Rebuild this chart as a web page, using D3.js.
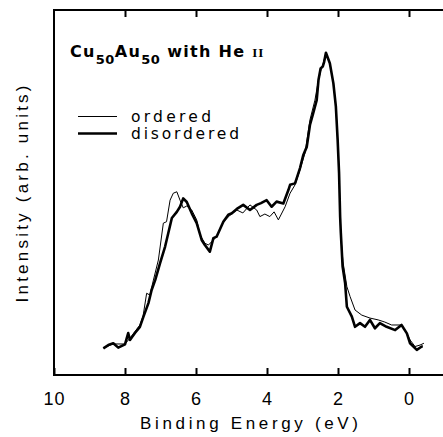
<!DOCTYPE html>
<html><head><meta charset="utf-8">
<script src="https://cdn.jsdelivr.net/npm/d3@7"></script>
<style>body{margin:0;background:#fff}svg{display:block}</style>
</head><body>
<script>
// Binding energy (eV) and intensity (arb. units)
const disorderedE = [8.61,8.47,8.33,8.19,8.00,7.91,7.86,7.72,7.58,7.48,7.34,7.25,7.15,7.01,6.87,6.78,6.68,6.54,6.45,6.36,6.26,6.12,5.98,5.84,5.75,5.61,5.51,5.42,5.23,5.09,4.99,4.85,4.67,4.48,4.29,4.17,4.01,3.87,3.73,3.54,3.40,3.35,3.21,3.07,2.98,2.88,2.79,2.70,2.60,2.55,2.49,2.43,2.39,2.34,2.23,2.13,2.06,2.01,1.97,1.94,1.92,1.87,1.80,1.75,1.61,1.52,1.38,1.24,1.10,0.96,0.82,0.63,0.39,0.21,0.06,-0.03,-0.22,-0.36,-0.39];
const disorderedI = [7.3,8.2,8.7,7.5,8.4,11.5,9.6,11.5,13.2,16.0,19.7,23.3,26.0,30.7,35.2,38.9,43.0,44.7,46.1,48.4,47.4,44.3,41.6,37.0,35.6,33.8,37.5,37.9,42.0,43.9,44.3,45.5,46.6,45.2,46.6,47.1,47.9,46.1,47.5,47.0,50.6,52.1,52.5,56.7,60.2,62.5,68.5,71.7,75.3,80.8,84.0,84.5,85.8,88.3,85.4,79.9,73.5,64.4,55.3,43.4,38.9,29.7,25.2,18.7,16.0,13.2,14.2,13.2,15.1,12.8,14.2,13.2,12.3,13.7,11.4,8.7,6.9,7.8,7.8];
const orderedE = [8.61,8.34,8.00,7.86,7.58,7.49,7.39,7.30,7.20,7.06,6.92,6.83,6.73,6.64,6.54,6.45,6.36,6.26,6.12,5.98,5.89,5.75,5.65,5.56,5.42,5.23,5.04,4.85,4.68,4.48,4.29,4.20,4.06,3.92,3.80,3.68,3.49,3.35,3.21,3.07,2.93,2.79,2.65,2.56,2.48,2.42,2.34,2.23,2.13,2.06,2.01,1.97,1.94,1.92,1.86,1.75,1.66,1.52,1.33,1.10,0.87,0.68,0.49,0.21,0.11,-0.03,-0.17,-0.31,-0.42];
const orderedI = [7.4,8.5,8.5,10.1,13.7,16.2,22.4,21.9,26.0,31.5,41.6,42.0,47.9,49.8,50.2,47.9,45.8,46.3,45.2,42.5,38.4,36.1,35.6,36.5,37.9,41.9,43.8,45.2,44.4,46.6,45.2,43.4,44.1,43.4,44.7,42.5,46.1,49.8,52.1,56.2,60.8,69.9,75.3,80.3,83.6,85.2,88.3,85.4,79.9,73.5,64.4,55.3,43.4,38.1,31.0,24.2,21.5,17.8,16.4,15.6,15.1,14.5,13.7,13.7,12.3,9.6,7.8,8.2,8.7];
const xTicks = [10,8,6,4,2,0];
const seriesNames = ["ordered","disordered"];

const W = 443, H = 437;
const svg = d3.select("body").append("svg").attr("width",W).attr("height",H);
const x = d3.scaleLinear().domain([10,-1]).range([54,444.5]);
const y = d3.scaleLinear().domain([0,100]).range([375,10]);
const font = "'Liberation Sans', Arial, sans-serif";
const wide = "'DejaVu Sans', sans-serif";

// frame
const frame = svg.append("g").attr("stroke","#000").attr("stroke-width",2).attr("fill","none");
frame.append("path").attr("d",`M${W},${y(100)}H${x(10)}V${y(0)}H${W}`);

// bottom axis (inward ticks)
const xb = svg.append("g").attr("transform",`translate(0,${y(0)})`)
  .call(d3.axisBottom(x).tickValues(xTicks).tickSizeInner(-7).tickSizeOuter(0).tickPadding(17));
xb.select(".domain").remove();
xb.selectAll(".tick line").attr("stroke-width",2);
xb.selectAll(".tick text").attr("font-family",font).attr("font-size",18).attr("fill","#000").attr("letter-spacing",1);
// top ticks
const xt = svg.append("g").attr("transform",`translate(0,${y(100)})`)
  .call(d3.axisTop(x).tickValues(xTicks.filter(d=>d!==10)).tickSizeInner(-7).tickSizeOuter(0).tickFormat(""));
xt.select(".domain").remove();
xt.selectAll(".tick line").attr("stroke-width",2);

// axis titles
svg.append("text").attr("x",249).attr("y",429).attr("text-anchor","middle")
  .attr("font-family",font).attr("font-size",17).attr("textLength",218).attr("lengthAdjust","spacing")
  .text("Binding Energy (eV)");
svg.append("text").attr("transform","translate(28,194) rotate(-90)").attr("text-anchor","middle")
  .attr("font-family",font).attr("font-size",17).attr("textLength",217).attr("lengthAdjust","spacing")
  .text("Intensity (arb. units)");

// curves
const line = d3.line().x(d=>x(d[0])).y(d=>y(d[1]));
const ordered = orderedE.map((e,i)=>[e,orderedI[i]]);
const disordered = disorderedE.map((e,i)=>[e,disorderedI[i]]);
svg.append("path").datum(ordered).attr("d",line).attr("fill","none").attr("stroke","#000").attr("stroke-width",1).attr("stroke-linejoin","round");
svg.append("path").datum(disordered).attr("d",line).attr("fill","none").attr("stroke","#000").attr("stroke-width",2.6).attr("stroke-linejoin","round");

// title
const t = svg.append("text").attr("x",70).attr("y",57).attr("font-family",wide).attr("font-size",16).attr("font-weight","bold").attr("letter-spacing",1.3);
t.append("tspan").text("Cu");
t.append("tspan").attr("dy",7).attr("font-size",13).attr("letter-spacing",0.5).text("50");
t.append("tspan").attr("dy",-7).text("Au");
t.append("tspan").attr("dy",7).attr("font-size",13).attr("letter-spacing",0.5).text("50");
t.append("tspan").attr("dy",-7).text(" with He ");
t.append("tspan").attr("font-family","'Liberation Serif', serif").attr("font-size",13).attr("letter-spacing",1).text("II");

// legend
const leg = svg.append("g");
const lw = [1, 2.6];
const tl = [80, 108];
seriesNames.forEach((n,i)=>{
  const ly = 116.5 + i*17;
  leg.append("line").attr("x1",78).attr("x2",117).attr("y1",ly).attr("y2",ly).attr("stroke","#000").attr("stroke-width",lw[i]);
  leg.append("text").attr("x",131).attr("y",ly+5).attr("font-family",wide).attr("font-size",15.5)
    .attr("textLength",tl[i]).attr("lengthAdjust","spacing").text(n);
});
</script>
</body></html>
